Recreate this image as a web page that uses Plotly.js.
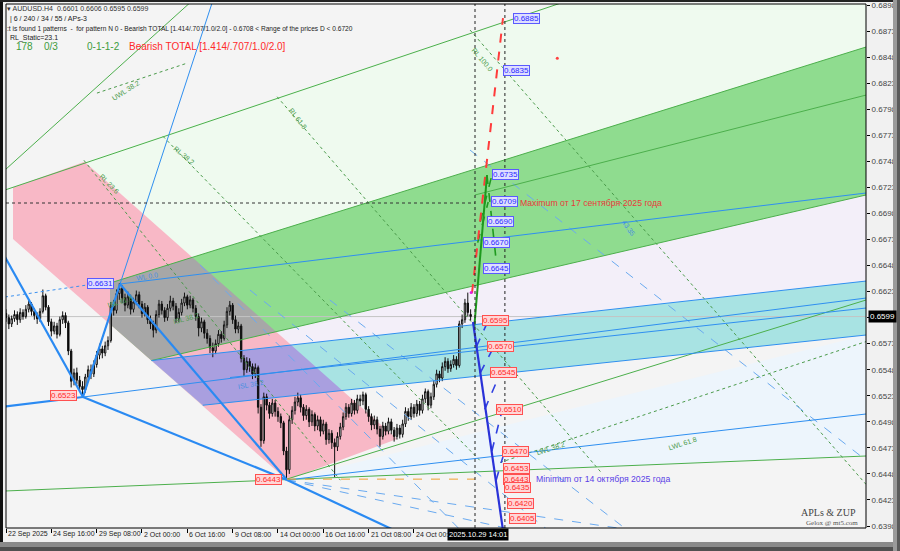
<!DOCTYPE html>
<html><head><meta charset="utf-8">
<script src="https://cdn.plot.ly/plotly-3.0.1.min.js"></script>
<style>html,body{margin:0;padding:0;background:#e9e9e9;}#chart{width:900px;height:551px;}</style>
</head><body><div id="chart"></div>
<script>
// ---------- DATA ----------
const tickIdx = [0,16,32,48,64,80,96,112,128,144];
const tickText = ['22 Sep 2025','24 Sep 16:00','29 Sep 08:00','2 Oct 00:00','6 Oct 16:00','9 Oct 08:00','14 Oct 00:00','16 Oct 16:00','21 Oct 08:00','24 Oct 00:00'];
const priceTicks = [0.6398,0.6423,0.6448,0.6473,0.6498,0.6523,0.6548,0.6573,0.6598,0.6623,0.6648,0.6673,0.6698,0.6723,0.6748,0.6773,0.6798,0.6823,0.6848,0.6873,0.6898];

const barOpen = [0.6602,0.6598,0.6592,0.6597,0.6601,0.6596,0.6603,0.6599,0.6606,0.6611,0.6604,
0.6600,0.6597,0.6604,0.6619,0.6608,0.6594,0.6585,0.6590,0.6582,0.6596,0.6600,
0.6593,0.6566,0.6537,0.6545,0.6538,0.6532,0.6529,0.6541,0.6548,0.6544,
0.6553,0.6562,0.6568,0.6564,0.6571,0.6576,0.6609,0.6605,0.6621,0.6626,
0.6617,0.6610,0.6618,0.6606,0.6613,0.6620,0.6611,0.6602,0.6608,0.6596,0.6592,0.6586,0.6601,0.6611,0.6605,0.6598,0.6607,0.6614,0.6609,
0.6597,0.6603,0.6612,0.6618,0.6610,0.6615,0.6607,
0.6599,0.6588,0.6594,0.6583,0.6578,0.6569,0.6566,
0.6573,0.6582,0.6578,0.6591,0.6604,0.6610,0.6596,0.6587,
0.6590,0.6559,0.6548,0.6556,0.6551,0.6544,0.6550,0.6512,
0.6480,0.6522,0.6514,0.6506,0.6516,0.6508,0.6503,0.6497,0.6470,0.6452,
0.6500,0.6509,0.6517,0.6521,0.6512,0.6504,0.6510,0.6498,0.6505,0.6494,
0.6500,0.6489,0.6496,0.6481,0.6487,0.6478,0.6474,0.6484,
0.6493,0.6503,0.6512,0.6506,0.6516,0.6509,0.6520,0.6518,
0.6524,0.6510,0.6503,0.6495,0.6500,0.6491,0.6484,0.6494,0.6489,
0.6498,0.6490,0.6484,0.6492,0.6486,
0.6496,0.6508,0.6503,0.6512,0.6506,0.6515,0.6509,0.6520,0.6527,0.6514,
0.6522,0.6534,0.6544,0.6540,0.6551,0.6556,0.6549,0.6553,0.6558,0.6552,
0.6592,0.6596,0.6612,0.6601];
const barHigh = [0.6606,0.6601,0.6600,0.6605,0.6604,0.6607,0.6606,0.6610,0.6616,0.6613,0.6607,
0.6603,0.6607,0.6625,0.6621,0.6610,0.6597,0.6594,0.6593,0.6599,0.6604,0.6603,
0.6595,0.6568,0.6549,0.6550,0.6542,0.6537,0.6544,0.6552,0.6553,0.6557,
0.6566,0.6573,0.6571,0.6575,0.6580,0.6613,0.6615,0.6625,0.6631,0.6629,
0.6621,0.6623,0.6620,0.6617,0.6624,0.6623,0.6614,0.6612,0.6610,0.6600,0.6595,0.6605,0.6615,0.6614,0.6608,0.6611,0.6619,0.6617,0.6612,
0.6607,0.6616,0.6622,0.6620,0.6619,0.6617,0.6610,
0.6602,0.6598,0.6596,0.6587,0.6581,0.6574,0.6577,
0.6586,0.6585,0.6595,0.6608,0.6614,0.6612,0.6600,0.6594,
0.6592,0.6562,0.6560,0.6559,0.6554,0.6554,0.6552,0.6515,
0.6526,0.6525,0.6517,0.6520,0.6519,0.6512,0.6506,0.6499,0.6474,0.6504,
0.6513,0.6522,0.6526,0.6524,0.6515,0.6514,0.6512,0.6509,0.6507,0.6504,
0.6503,0.6500,0.6498,0.6491,0.6490,0.6482,0.6488,0.6497,
0.6507,0.6516,0.6515,0.6520,0.6519,0.6524,0.6524,0.6527,
0.6526,0.6513,0.6506,0.6504,0.6503,0.6494,0.6498,0.6497,0.6502,
0.6501,0.6493,0.6496,0.6495,0.6500,
0.6512,0.6511,0.6516,0.6515,0.6519,0.6518,0.6524,0.6530,0.6529,0.6526,
0.6538,0.6548,0.6547,0.6555,0.6560,0.6559,0.6557,0.6562,0.6561,0.6595,
0.6601,0.6616,0.6622,0.6606];
const barLow = [0.6594,0.6587,0.6589,0.6594,0.6591,0.6593,0.6596,0.6597,0.6603,0.6600,0.6596,
0.6592,0.6594,0.6602,0.6605,0.6590,0.6580,0.6582,0.6578,0.6580,0.6592,0.6588,
0.6562,0.6531,0.6533,0.6534,0.6527,0.6523,0.6526,0.6537,0.6539,0.6541,
0.6550,0.6558,0.6559,0.6561,0.6567,0.6574,0.6600,0.6602,0.6615,0.6612,
0.6604,0.6607,0.6601,0.6603,0.6610,0.6607,0.6598,0.6599,0.6592,0.6587,0.6579,0.6583,0.6598,0.6601,0.6594,0.6595,0.6604,0.6605,0.6593,
0.6594,0.6600,0.6609,0.6606,0.6607,0.6603,0.6595,
0.6580,0.6584,0.6578,0.6573,0.6564,0.6560,0.6563,
0.6570,0.6574,0.6576,0.6588,0.6600,0.6592,0.6583,0.6583,
0.6555,0.6542,0.6545,0.6546,0.6539,0.6540,0.6506,0.6474,
0.6477,0.6509,0.6501,0.6503,0.6503,0.6498,0.6492,0.6466,0.6443,0.6448,
0.6496,0.6505,0.6513,0.6507,0.6499,0.6500,0.6493,0.6494,0.6489,0.6490,
0.6484,0.6486,0.6476,0.6477,0.6472,0.6445,0.6470,0.6481,
0.6490,0.6500,0.6502,0.6503,0.6505,0.6506,0.6513,0.6514,
0.6506,0.6498,0.6490,0.6491,0.6486,0.6474,0.6481,0.6485,0.6486,
0.6486,0.6479,0.6481,0.6482,0.6483,
0.6493,0.6499,0.6500,0.6502,0.6503,0.6504,0.6506,0.6516,0.6509,0.6511,
0.6519,0.6531,0.6536,0.6537,0.6547,0.6545,0.6546,0.6550,0.6548,0.6550,
0.6588,0.6593,0.6599,0.6595];
const barClose = [0.6598,0.6592,0.6597,0.6601,0.6596,0.6603,0.6599,0.6606,0.6611,0.6604,0.6600,
0.6597,0.6604,0.6619,0.6608,0.6594,0.6585,0.6590,0.6582,0.6596,0.6600,0.6593,
0.6566,0.6537,0.6545,0.6538,0.6532,0.6529,0.6541,0.6548,0.6544,0.6553,
0.6562,0.6568,0.6564,0.6571,0.6576,0.6609,0.6605,0.6621,0.6626,0.6617,
0.6610,0.6618,0.6606,0.6613,0.6620,0.6611,0.6602,0.6608,0.6596,0.6592,0.6586,0.6601,0.6611,0.6605,0.6598,0.6607,0.6614,0.6609,0.6597,
0.6603,0.6612,0.6618,0.6610,0.6615,0.6607,0.6599,
0.6588,0.6594,0.6583,0.6578,0.6569,0.6566,0.6573,
0.6582,0.6578,0.6591,0.6604,0.6610,0.6596,0.6587,0.6590,
0.6559,0.6548,0.6556,0.6551,0.6544,0.6550,0.6512,0.6480,
0.6522,0.6514,0.6506,0.6516,0.6508,0.6503,0.6497,0.6470,0.6452,0.6500,
0.6509,0.6517,0.6521,0.6512,0.6504,0.6510,0.6498,0.6505,0.6494,0.6500,
0.6489,0.6496,0.6481,0.6487,0.6478,0.6474,0.6484,0.6493,
0.6503,0.6512,0.6506,0.6516,0.6509,0.6520,0.6518,0.6524,
0.6510,0.6503,0.6495,0.6500,0.6491,0.6484,0.6494,0.6489,0.6498,
0.6490,0.6484,0.6492,0.6486,0.6496,
0.6508,0.6503,0.6512,0.6506,0.6515,0.6509,0.6520,0.6527,0.6514,0.6522,
0.6534,0.6544,0.6540,0.6551,0.6556,0.6549,0.6553,0.6558,0.6552,0.6592,
0.6596,0.6612,0.6603,0.6599];

// price levels
const upLevels = [0.6885,0.6835,0.6735,0.6709,0.6690,0.6670,0.6645];
const downLevels = [0.6595,0.6570,0.6545,0.6510,0.6470,0.6453,0.6443,0.6435,0.6420,0.6405];
const pivotLevels = [0.6631,0.6523,0.6443];
const lastPrice = 0.6599;
const maxLevel = 0.6708;
const minLevel = 0.6443;

// zones: [bar, price] polygons
const zonePink = [[2.47,0.67230],[27.71,0.67477],[138.02,0.64815],[99.19,0.64422],[2.47,0.66735]];
const zoneLightGreen = [[27.71,0.67477],[209.5,0.69124],[303.56,0.69124],[303.56,0.68577],[65.48,0.66556]];
const zoneGreen = [[36.71,0.66312],[303.56,0.68577],[303.56,0.67157],[51.36,0.65568],[36.71,0.65919]];
const zoneCyan = [[51.36,0.65568],[303.56,0.66331],[303.56,0.65813],[69.47,0.65139]];
const zoneLavender = [[51.36,0.65568],[303.56,0.67157],[303.56,0.66331]];
const zoneLightBlue = [[99.19,0.64422],[303.56,0.65813],[303.56,0.64652]];

// lines: [bar0, price0, bar1, price1]
const greenLines = [[-0.35,0.67205,209.5,0.69124],[-0.35,0.67397,69.9,0.69124],[36.71,0.66312,303.56,0.68577],[51.36,0.65568,303.56,0.67157],[99.19,0.64431,303.56,0.66149],[-0.35,0.64316,303.56,0.64652],[165.55,0.67157,303.56,0.68116]];
const greenDotLines = [[27.5,0.67490,118.0,0.64420],[55.4,0.67720,167.6,0.64600],[95.7,0.68100,209.9,0.64500],[163.8,0.68740,303.56,0.64380],[32.1,0.68135,64.0,0.68423],[174.4,0.64590,303.56,0.65750]];
const blueLines = [[27.18,0.65218,74.23,0.69124],[40.24,0.66303,303.56,0.67176],[27.18,0.65218,303.56,0.66168],[51.36,0.65568,303.56,0.66331],[69.47,0.65139,303.56,0.65813],[79.07,0.65405,303.56,0.66072],[99.19,0.64422,303.56,0.65055]];
const blueDashLines = [[68.5,0.66485,163.8,0.63846],[86.1,0.66245,195.6,0.63846],[114.3,0.66149,223.8,0.63846],[163.8,0.67588,303.56,0.64612],[99.19,0.64422,195.6,0.63846],[99.19,0.64422,245.0,0.63846]];
const zigzag = [[-0.35,0.66562,27.18,0.65218],[27.18,0.65218,40.24,0.66303],[40.24,0.66303,99.19,0.64422],[-2.12,0.65122,27.18,0.65218],[27.18,0.65218,99.19,0.64422],[99.19,0.64422,144.37,0.63846]];
const projRed = [164.49,0.66216,175.43,0.68855];
const projGreen = [165.2,0.65861,169.78,0.67348];
const projBlue = [164.84,0.65938,175.43,0.63938];
const greenPetals = [[169.78,0.67348,173.3,0.66456],[166.5,0.66700,170.2,0.67090],[167.4,0.66900,171.5,0.67348]];
const bluePetals = [[166.0,0.65700,170.2,0.65950],[167.4,0.65450,172.2,0.65700],[169.0,0.65100,174.5,0.65450],[171.5,0.64700,175.2,0.65100],[173.0,0.64420,176.0,0.64700]];

// label anchor positions (bar index)
const upLabelBars = [178.96,175.43,171.55,171.2,169.78,168.37,168.37];
const downLabelBars = [168.02,169.78,170.84,172.96,175.08,175.43,175.43,175.79,176.85,177.56];
const pivotLabelBars = [28.59,15.53,87.89];

// ---------- HELPERS ----------
function clipPoly(subject, clip){
  const area = clip.reduce((s,p,i)=>{const q=clip[(i+1)%clip.length];return s+(p[0]*q[1]-q[0]*p[1]);},0);
  const sgn = area>0?1:-1;
  let out = subject.slice();
  for(let i=0;i<clip.length;i++){
    const A=clip[i],B=clip[(i+1)%clip.length];
    const inside=p=>sgn*((B[0]-A[0])*(p[1]-A[1])-(B[1]-A[1])*(p[0]-A[0]))>=0;
    const inter=(P,Q)=>{const a1=B[1]-A[1],b1=A[0]-B[0],c1=a1*A[0]+b1*A[1];const a2=Q[1]-P[1],b2=P[0]-Q[0],c2=a2*P[0]+b2*P[1];const d=a1*b2-a2*b1;return [(b2*c1-b1*c2)/d,(a1*c2-a2*c1)/d];};
    const inp=out; out=[];
    for(let j=0;j<inp.length;j++){
      const P=inp[j],Q=inp[(j+1)%inp.length];
      if(inside(Q)){ if(!inside(P)) out.push(inter(P,Q)); out.push(Q);} else if(inside(P)) out.push(inter(P,Q));
    }
    if(!out.length) break;
  }
  return out;
}
function zoneShape(poly,color){
  return {type:'path',xref:'x',yref:'y',layer:'below',path:'M'+poly.map(p=>p[0]+','+p[1]).join(' L')+' Z',fillcolor:color,line:{width:0}};
}
function lineTraces(list,color,width,dash){
  const xs=[],ys=[];
  list.forEach(l=>{xs.push(l[0],l[2],null);ys.push(l[1],l[3],null);});
  return {x:xs,y:ys,type:'scatter',mode:'lines',line:{color:color,width:width,dash:dash||'solid'},hoverinfo:'skip',showlegend:false,connectgaps:false};
}

const traces = [];
traces.push({type:'candlestick',x:barClose.map((_,i)=>i),open:barOpen,high:barHigh,low:barLow,close:barClose,
  increasing:{line:{color:'#111',width:1},fillcolor:'#ffffff'},decreasing:{line:{color:'#111',width:1},fillcolor:'#000000'},
  whiskerwidth:0,hoverinfo:'skip',showlegend:false});
traces.push(lineTraces(greenDotLines,'#4a9a4a',1,'dot'));
traces.push(lineTraces(blueDashLines,'#6aaaf0',1,'dash'));
traces.push(lineTraces(greenLines,'#4caf4c',1));
traces.push(lineTraces(blueLines,'#2f8ff0',1));
traces.push(lineTraces(zigzag,'#2a8af2',2.2));
traces.push({x:[0,165.55],y:[maxLevel,maxLevel],type:'scatter',mode:'lines',line:{color:'#333',width:1,dash:'dot'},hoverinfo:'skip',showlegend:false});
traces.push({x:[99.19,165.55],y:[minLevel,minLevel],type:'scatter',mode:'lines',line:{color:'#f0a030',width:1,dash:'dash'},hoverinfo:'skip',showlegend:false});
traces.push({x:[-0.35,28.6],y:[0.66178,0.66293],type:'scatter',mode:'lines',line:{color:'#3a90f0',width:1,dash:'dot'},hoverinfo:'skip',showlegend:false});
traces.push(lineTraces(greenPetals,'#1f9a1f',1.6,'dash'));
traces.push(lineTraces(bluePetals,'#3040e0',1.6,'dash'));
traces.push(lineTraces([projRed],'#ff3b3b',2,'dash'));
traces.push(lineTraces([projGreen],'#1e9a1e',2));
traces.push(lineTraces([projBlue],'#2a32d8',2.2));
traces.push({x:[164.2],y:[0.6622],type:'scatter',mode:'markers',marker:{color:'#e020e0',size:3},hoverinfo:'skip',showlegend:false});
traces.push({x:[194.6],y:[0.6847],type:'scatter',mode:'markers',marker:{color:'#ff4040',size:3},hoverinfo:'skip',showlegend:false});

// ---------- LAYOUT ----------
const L=6,R=866,T=4,B=528;
const pxX = p => (p-L)/(R-L), pxY = p => 1-(p-T)/(B-T);
const ann = [];
const lblFont = (c)=>({family:'Liberation Sans, Arial, sans-serif',size:8,color:c});
upLevels.forEach((v,i)=>ann.push({x:upLabelBars[i],y:v,xref:'x',yref:'y',text:v.toFixed(4),showarrow:false,xanchor:'left',yanchor:'middle',font:lblFont('#2a2aff'),bgcolor:'#dedeff',bordercolor:'#5a5aff',borderwidth:1,borderpad:0}));
downLevels.forEach((v,i)=>ann.push({x:downLabelBars[i],y:v,xref:'x',yref:'y',text:v.toFixed(4),showarrow:false,xanchor:'left',yanchor:'middle',font:lblFont('#ff2a2a'),bgcolor:'#ffd6d6',bordercolor:'#ff5050',borderwidth:1,borderpad:0}));
pivotLevels.forEach((v,i)=>ann.push({x:pivotLabelBars[i],y:v,xref:'x',yref:'y',text:v.toFixed(4),showarrow:false,xanchor:'left',yanchor:'middle',font:lblFont(i===0?'#2a2aff':'#ff2a2a'),bgcolor:i===0?'#dedeff':'#ffd6d6',bordercolor:i===0?'#5a5aff':'#ff5050',borderwidth:1,borderpad:0}));
ann.push({x:180.7,y:maxLevel,xref:'x',yref:'y',text:'Maximum от 17 сентября 2025 года',showarrow:false,xanchor:'left',yanchor:'middle',font:{family:'Liberation Sans, Arial',size:8.7,color:'#e83a3a'}});
ann.push({x:186.4,y:minLevel,xref:'x',yref:'y',text:'Minimum от 14 октября 2025 года',showarrow:false,xanchor:'left',yanchor:'middle',font:{family:'Liberation Sans, Arial',size:8.7,color:'#5a3ee6'}});
tickIdx.forEach((v,i)=>ann.push({x:v,y:pxY(534),xref:'x',yref:'paper',text:tickText[i],showarrow:false,xanchor:'left',yanchor:'middle',xshift:0,font:{family:'Liberation Sans, Arial',size:7,color:'#222'}}));
ann.push({x:pxX(447),y:pxY(534),xref:'paper',yref:'paper',text:'2025.10.29 14:01',showarrow:false,xanchor:'left',yanchor:'middle',bgcolor:'#000',font:{family:'Liberation Sans, Arial',size:7.5,color:'#fff'},borderpad:1});
ann.push({x:pxX(868),y:lastPrice,xref:'paper',yref:'y',text:'0.6599',showarrow:false,xanchor:'left',yanchor:'middle',bgcolor:'#000',font:{family:'Liberation Sans, Arial',size:8,color:'#fff'},borderpad:1});
const hf = (s,c)=>({family:'Liberation Sans, Arial, sans-serif',size:s,color:c});
const head = [
 [5,9,'▾ AUDUSD.H4  0.6601 0.6606 0.6595 0.6599',7,'#333'],
 [8,19,'| 6 / 240 / 34 / 55 / APs-3',7,'#222'],
 [5,29,':t is found 1 patterns  -  for pattern N 0 - Bearish TOTAL [1.414/.707/1.0/2.0] - 0.6708 < Range of the prices D < 0.6720',6.6,'#222'],
 [8,38,'RL_Static=23.1',7,'#222'],
 [14,47,'178',10,'#3d9c3d'],[42,47,'0/3',10,'#3d9c3d'],[85,47,'0-1-1-2',10,'#3d9c3d'],[127,47,'Bearish TOTAL [1.414/.707/1.0/2.0]',10,'#ff2a2a']
];
head.forEach(h=>ann.push({x:pxX(h[0]),y:pxY(h[1]),xref:'paper',yref:'paper',text:h[2],showarrow:false,xanchor:'left',yanchor:'middle',font:hf(h[3],h[4])}));
ann.push({x:pxX(858),y:pxY(512),xref:'paper',yref:'paper',text:'APLs &amp; ZUP',showarrow:false,xanchor:'right',yanchor:'middle',font:{family:'Liberation Serif, serif',size:10,color:'#444'}});
ann.push({x:pxX(860),y:pxY(523),xref:'paper',yref:'paper',text:'Gelox @ mt5.com',showarrow:false,xanchor:'right',yanchor:'middle',font:{family:'Liberation Serif, serif',size:7,color:'#555'}});
const gl = [[95,170,'RL 23.6',45,'#4a9a4a'],[170,142,'RL 38.2',40,'#4a9a4a'],[285,104,'RL 61.8',52,'#4a9a4a'],[482,44,'RL 100.0',50,'#4a9a4a'],[108,76,'UWL 38.2',-33,'#4a9a4a'],[550,459,'LWL 38.2',-18,'#4a9a4a'],[700,454,'LWL 61.8',-18,'#4a9a4a'],[104,301,'ISL 61.8',-18,'#4a9a4a'],[133,276,'WL 0.0',-10,'#4a90e0'],[640,228,'43.35',55,'#4a90e0'],[235,393,'ISL 38.2',-10,'#4a90e0'],[170,318,'ISL 38.2',-15,'#4a9a4a']];
gl.forEach(g=>ann.push({x:pxX(g[0]),y:pxY(g[1]),xref:'paper',yref:'paper',text:g[2],showarrow:false,textangle:g[3],font:{family:'Liberation Sans, Arial',size:7,color:g[4]}}));

const shapes = [
 zoneShape(zoneLavender,'#f3eff9'),
 zoneShape(zoneLightBlue,'#edf5fc'),
 zoneShape(zoneLightGreen,'#effaef'),
 zoneShape(zonePink,'#f8b8c6'),
 zoneShape(zoneGreen,'#8fdc8f'),
 zoneShape(zoneCyan,'#a8e3e3'),
 zoneShape(clipPoly(zonePink,zoneGreen),'#a7a7a7'),
 zoneShape(clipPoly(zonePink,zoneCyan),'#a99fdf'),
 {type:'line',xref:'x',yref:'y',x0:0,x1:303.56,y0:lastPrice,y1:lastPrice,line:{color:'#c4c4c4',width:1},layer:'below'},
 {type:'line',xref:'x',yref:'paper',x0:165.55,x1:165.55,y0:0,y1:1,line:{color:'#222',width:1,dash:'dot'}},
 {type:'line',xref:'x',yref:'paper',x0:176.1,x1:176.1,y0:0,y1:1,line:{color:'#222',width:1,dash:'dot'}},
 {type:'rect',xref:'paper',yref:'paper',x0:0,x1:1,y0:0,y1:1,line:{color:'#000',width:1}},
 {type:'rect',xref:'paper',yref:'paper',x0:pxX(0),x1:pxX(3),y0:pxY(551),y1:pxY(0),fillcolor:'#111',line:{width:0}},
 {type:'rect',xref:'paper',yref:'paper',x0:pxX(0),x1:pxX(900),y0:pxY(2),y1:pxY(0),fillcolor:'#222',line:{width:0}},
 {type:'rect',xref:'paper',yref:'paper',x0:pxX(0),x1:pxX(900),y0:pxY(551),y1:pxY(542),fillcolor:'#8a8a8a',line:{width:0}},
 {type:'rect',xref:'paper',yref:'paper',x0:pxX(0),x1:pxX(900),y0:pxY(551),y1:pxY(547),fillcolor:'#505050',line:{width:0}},
 {type:'rect',xref:'paper',yref:'paper',x0:pxX(893),x1:pxX(900),y0:pxY(551),y1:pxY(0),fillcolor:'#9a9a9a',line:{width:0}},
 {type:'rect',xref:'paper',yref:'paper',x0:pxX(897),x1:pxX(900),y0:pxY(551),y1:pxY(0),fillcolor:'#5a5a5a',line:{width:0}}
];

const layout = {
  width:900,height:551,margin:{l:L,r:900-R,t:T,b:551-B},
  paper_bgcolor:'#f1f1f1',plot_bgcolor:'#f4f4f4',showlegend:false,
  xaxis:{range:[0,303.56],showgrid:false,zeroline:false,tickvals:tickIdx,ticktext:tickText,showticklabels:false,ticks:'outside',ticklen:4,tickcolor:'#000',showline:false,rangeslider:{visible:false},fixedrange:true},
  yaxis:{range:[0.63961,0.68990],side:'right',showgrid:false,zeroline:false,tickvals:priceTicks,ticktext:priceTicks.map(v=>v.toFixed(4)),ticks:'outside',ticklen:3,tickcolor:'#000',
    tickfont:{family:'Liberation Sans, Arial',size:8,color:'#444'},showline:false,fixedrange:true},
  annotations:ann,shapes:shapes,hovermode:false
};
Plotly.newPlot('chart',traces,layout,{staticPlot:true,displayModeBar:false});
</script></body></html>
